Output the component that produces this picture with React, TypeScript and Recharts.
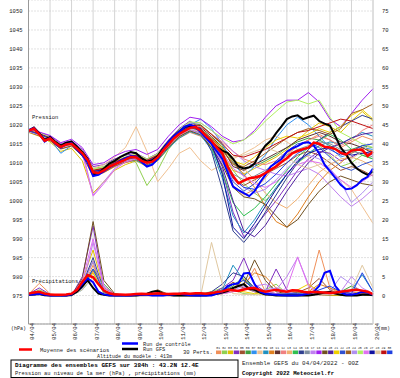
import { LineChart, Line, XAxis, YAxis, CartesianGrid } from "recharts"

const MONO = '"Liberation Mono", "DejaVu Sans Mono", monospace'

// axis ticks
const dayLabels = ["04/04", "05/04", "06/04", "07/04", "08/04", "09/04", "10/04", "11/04", "12/04", "13/04", "14/04", "15/04", "16/04", "17/04", "18/04", "19/04", "20/04"]
const dayTicks = [0, 24, 48, 72, 96, 120, 144, 168, 192, 216, 240, 264, 288, 312, 336, 360, 384]
const hpaTicks = [975, 980, 985, 990, 995, 1000, 1005, 1010, 1015, 1020, 1025, 1030, 1035, 1040, 1045, 1050]
const mmTicks = [0, 5, 10, 15, 20, 25, 30, 35, 40, 45, 50, 55, 60, 65, 70, 75]

// 6-hourly series (0h .. 384h)
const meanPressure = [1018.4, 1019.0, 1017.5, 1015.8, 1016.4, 1015.2, 1014.2, 1014.8, 1015.0, 1013.8,
  1012.5, 1010.7, 1007.5, 1007.3, 1008.0, 1008.9, 1009.6, 1010.2, 1010.8, 1011.5,
  1011.4, 1010.5, 1010.0, 1010.3, 1011.4, 1013.2, 1014.8, 1016.4, 1017.6, 1018.4,
  1019.2, 1019.4, 1018.5, 1017.0, 1015.8, 1014.0, 1012.5, 1009.0, 1006.5, 1004.6,
  1005.3, 1005.9, 1006.1, 1006.5, 1007.3, 1008.2, 1009.0, 1010.2, 1011.2, 1012.5,
  1013.1, 1013.6, 1014.0, 1015.3, 1015.0, 1014.2, 1014.0, 1013.6, 1012.6, 1012.2,
  1013.2, 1013.4, 1013.4, 1011.8, 1012.9]
const controlPressure = [1018.6, 1019.2, 1017.6, 1015.6, 1016.6, 1015.0, 1014.0, 1014.9, 1015.2, 1013.5,
  1012.0, 1010.0, 1006.5, 1006.8, 1007.8, 1008.8, 1009.5, 1010.5, 1011.2, 1011.8,
  1011.6, 1010.2, 1009.0, 1009.5, 1011.0, 1013.5, 1015.5, 1017.0, 1018.2, 1019.5,
  1020.0, 1019.5, 1018.0, 1016.5, 1015.0, 1013.0, 1011.0, 1007.5, 1003.7, 1002.8,
  1002.0, 1001.2, 1002.5, 1004.8, 1006.8, 1009.0, 1010.0, 1011.0, 1012.9, 1013.8,
  1014.4, 1015.2, 1015.4, 1014.5, 1012.5, 1009.5, 1007.8, 1006.0, 1004.2, 1003.0,
  1003.2, 1004.1, 1005.5, 1006.3, 1008.5]
const gfsPressure = [1018.5, 1019.3, 1017.8, 1016.0, 1016.8, 1015.5, 1014.5, 1015.3, 1015.6, 1014.2,
  1012.8, 1011.0, 1007.0, 1007.2, 1008.5, 1009.8, 1010.5, 1011.5, 1012.2, 1012.8,
  1012.5, 1011.2, 1010.3, 1010.6, 1011.8, 1013.8, 1015.5, 1017.0, 1018.3, 1019.4,
  1019.8, 1019.5, 1018.2, 1017.0, 1015.5, 1014.2, 1013.2, 1012.6, 1011.0, 1009.0,
  1008.5, 1008.8, 1009.8, 1012.5, 1014.5, 1015.8, 1017.8, 1019.6, 1021.5, 1022.2,
  1022.5, 1021.5, 1022.0, 1022.4, 1021.0, 1020.3, 1019.8, 1017.0, 1014.0, 1012.2,
  1010.0, 1008.5, 1007.5, 1006.8, 1007.7]
const meanPrecip = [0.5, 0.8, 1.0, 0.5, 0.3, 0.2, 0.2, 0.3, 0.5, 1.5,
  3.6, 5.4, 4.8, 3.0, 1.3, 0.6, 0.3, 0.3, 0.2, 0.3,
  0.4, 0.5, 0.4, 0.5, 0.6, 0.5, 0.4, 0.5, 0.5, 0.6,
  0.5, 0.6, 0.6, 0.5, 0.7, 0.9, 1.1, 1.5, 1.4, 1.2,
  1.6, 1.9, 2.0, 1.4, 1.0, 1.3, 1.5, 1.2, 1.0, 1.4,
  1.3, 1.0, 0.8, 1.0, 0.9, 0.8, 0.7, 0.8, 1.0, 1.2,
  1.4, 1.5, 1.3, 1.0, 0.4]
const controlPrecip = [0.2, 0.3, 0.5, 0.2, 0, 0, 0, 0, 0.3, 1.5,
  3.0, 4.5, 3.5, 1.0, 0.3, 0.1, 0, 0, 0, 0,
  0.2, 0.3, 0.2, 0, 0, 0, 0.2, 0.3, 0.5, 0.3,
  0.1, 0, 0, 0, 0, 0.5, 1.0, 2.5, 3.0, 3.2,
  5.8, 6.0, 3.0, 1.0, 0.5, 0.3, 0.2, 0.1, 0, 0,
  0, 0.2, 0.5, 1.0, 2.5, 6.0, 6.5, 2.5, 0.8, 0.3,
  0.2, 0.5, 1.0, 0.8, 0.2]
const gfsPrecip = [0.2, 0.3, 0.4, 0.1, 0, 0, 0, 0, 0.2, 1.0,
  2.5, 4.0, 2.0, 0.5, 0.2, 0, 0, 0, 0, 0,
  0, 0.2, 0.5, 1.0, 1.2, 0.5, 0.2, 0, 0, 0,
  0, 0, 0, 0, 0.2, 0.5, 0.8, 1.2, 2.0, 2.5,
  3.0, 1.8, 1.5, 0.8, 0.3, 0.2, 0, 0, 0, 0,
  0, 0, 0, 0.2, 0.5, 0.8, 1.0, 0.5, 0.2, 0,
  0, 0, 0.2, 0.3, 0.1]

// 30 perturbed members, 12-hourly
const pertColors = ["#f0905a", "#90d050", "#e0c000", "#8030c0", "#a05030", "#40a040", "#3090f0", "#f0c090", "#2090c0", "#e08020",
  "#603030", "#f08080", "#f0b070", "#30c050", "#304090", "#8090a0", "#c080f0", "#a020f0", "#705020", "#5020a0",
  "#f0d000", "#3050d0", "#a06020", "#b090f0", "#b0f060", "#e070f0", "#1010a0", "#e0c8a0", "#c01010", "#2040e0"]
const pert01 = [1018.2, 1017.3, 1016.0, 1013.8, 1014.5, 1012.0, 1006.5, 1007.5, 1009.0, 1010.5, 1011.0, 1009.5, 1011.0, 1014.0, 1016.5, 1018.0, 1017.0, 1014.0, 1010.5, 1004.0, 1001.5, 1003.0, 1006.0, 1009.5, 1012.0, 1014.5, 1016.0, 1017.5, 1016.0, 1014.0, 1015.5, 1017.0, 1016.0]
const pert02 = [1018.5, 1017.8, 1016.8, 1014.8, 1015.6, 1013.2, 1008.5, 1009.0, 1010.8, 1012.0, 1010.0, 1004.0, 1008.0, 1013.5, 1017.0, 1019.5, 1019.0, 1016.5, 1013.0, 1008.0, 1004.5, 1002.0, 1000.0, 1003.0, 1007.0, 1010.0, 1012.0, 1014.5, 1012.0, 1009.0, 1010.0, 1012.0, 1011.0]
const pert03 = [1018.0, 1017.0, 1015.5, 1013.0, 1013.8, 1010.5, 1002.0, 1005.0, 1008.0, 1009.5, 1010.5, 1009.0, 1010.5, 1013.8, 1016.8, 1018.5, 1018.0, 1015.0, 1012.0, 1008.0, 1007.0, 1008.5, 1010.0, 1011.5, 1013.5, 1016.0, 1018.5, 1020.5, 1019.5, 1018.0, 1021.0, 1023.5, 1021.0]
const pert04 = [1018.6, 1018.0, 1017.0, 1015.0, 1015.8, 1013.5, 1009.0, 1009.5, 1011.0, 1012.0, 1012.5, 1011.0, 1012.5, 1016.0, 1019.0, 1021.0, 1019.0, 1014.5, 1008.0, 997.0, 990.5, 993.0, 996.5, 1000.0, 1004.0, 1008.0, 1011.0, 1013.0, 1012.5, 1010.5, 1011.5, 1013.0, 1012.0]
const pert05 = [1018.3, 1017.4, 1016.2, 1014.0, 1014.8, 1012.0, 1007.0, 1007.8, 1009.5, 1010.5, 1011.0, 1009.8, 1011.2, 1014.5, 1017.0, 1018.5, 1017.5, 1014.5, 1011.0, 1006.0, 1004.0, 1005.5, 1007.0, 1008.5, 1010.0, 1012.0, 1013.0, 1012.0, 1010.0, 1008.0, 1009.0, 1008.0, 1006.5]
const pert06 = [1018.4, 1017.6, 1016.5, 1014.5, 1015.2, 1012.8, 1008.0, 1008.5, 1010.0, 1011.2, 1011.8, 1010.5, 1012.0, 1015.5, 1018.5, 1020.5, 1020.0, 1017.5, 1014.5, 1010.0, 1008.5, 1009.0, 1010.5, 1012.0, 1014.0, 1015.5, 1016.5, 1016.0, 1014.5, 1013.0, 1013.5, 1014.5, 1014.0]
const pert07 = [1018.5, 1017.5, 1016.3, 1012.5, 1014.5, 1012.2, 1007.2, 1008.0, 1009.8, 1011.0, 1011.5, 1010.2, 1011.8, 1015.0, 1018.0, 1020.0, 1021.5, 1019.0, 1015.0, 1010.0, 1006.5, 1009.0, 1012.0, 1016.5, 1020.0, 1022.0, 1020.0, 1017.0, 1014.0, 1011.5, 1012.5, 1014.0, 1013.5]
const pert08 = [1018.2, 1017.2, 1016.0, 1014.0, 1014.6, 1012.3, 1008.5, 1009.5, 1011.5, 1014.0, 1019.5, 1013.0, 1005.0, 1008.5, 1012.5, 1014.0, 1010.5, 1008.0, 1009.5, 1011.0, 1012.5, 1014.0, 1016.0, 1017.0, 1015.5, 1013.5, 1011.5, 1009.0, 1007.0, 1005.5, 1003.0, 998.5, 994.0]
const pert09 = [1018.4, 1017.4, 1016.1, 1013.9, 1014.7, 1012.1, 1006.8, 1007.6, 1009.2, 1010.2, 1010.6, 1009.2, 1010.6, 1013.8, 1016.5, 1018.2, 1017.2, 1013.5, 1006.0, 996.0, 991.5, 995.0, 999.5, 1003.5, 1007.0, 1010.0, 1012.5, 1014.5, 1015.5, 1015.0, 1016.5, 1018.0, 1017.0]
const pert10 = [1018.1, 1017.1, 1015.8, 1013.6, 1014.4, 1011.8, 1006.5, 1007.4, 1009.0, 1010.0, 1010.8, 1009.5, 1011.0, 1014.2, 1017.0, 1018.7, 1018.0, 1015.5, 1013.0, 1010.0, 1007.0, 1003.5, 998.5, 994.5, 993.0, 996.5, 1001.0, 1005.0, 1008.0, 1010.0, 1012.5, 1014.0, 1013.0]
const pert11 = [1018.5, 1017.7, 1016.6, 1014.4, 1015.3, 1012.7, 1007.8, 1008.3, 1009.9, 1011.3, 1012.0, 1010.7, 1012.0, 1015.2, 1018.2, 1019.8, 1019.3, 1017.0, 1014.0, 1009.0, 1008.0, 1009.5, 1011.0, 1012.5, 1014.0, 1016.0, 1017.0, 1018.0, 1017.0, 1015.5, 1015.0, 1014.0, 1012.5]
const pert12 = [1018.3, 1017.5, 1016.4, 1014.3, 1015.0, 1012.6, 1007.6, 1008.2, 1009.7, 1010.9, 1011.5, 1010.2, 1011.6, 1015.0, 1018.0, 1019.8, 1019.5, 1017.5, 1015.5, 1013.0, 1011.0, 1010.0, 1009.5, 1010.5, 1012.5, 1014.5, 1016.0, 1017.0, 1016.0, 1014.5, 1016.0, 1018.5, 1020.0]
const pert13 = [1018.2, 1017.3, 1016.2, 1014.1, 1014.9, 1012.4, 1007.3, 1007.9, 1009.5, 1010.6, 1011.2, 1009.9, 1011.3, 1014.6, 1017.4, 1019.0, 1018.2, 1015.8, 1013.5, 1011.0, 1008.5, 1005.5, 1002.0, 999.5, 998.0, 1000.5, 1004.0, 1007.5, 1009.5, 1011.0, 1011.5, 1010.5, 1009.0]
const pert14 = [1018.4, 1017.5, 1016.3, 1014.1, 1014.9, 1012.3, 1007.1, 1007.8, 1009.3, 1010.4, 1010.9, 1009.6, 1011.0, 1014.3, 1017.2, 1018.8, 1017.8, 1014.0, 1007.5, 999.5, 996.0, 998.0, 1001.0, 1004.5, 1008.0, 1011.5, 1014.0, 1016.0, 1017.5, 1016.0, 1013.5, 1012.0, 1011.0]
const pert15 = [1018.5, 1017.6, 1016.4, 1014.2, 1015.1, 1012.5, 1007.4, 1008.1, 1009.6, 1010.7, 1011.3, 1009.9, 1011.4, 1014.8, 1017.7, 1019.3, 1018.3, 1013.0, 1003.0, 992.0, 989.0, 992.5, 997.0, 1001.5, 1006.0, 1010.0, 1013.5, 1016.0, 1018.0, 1019.5, 1021.0, 1022.5, 1021.5]
const pert16 = [1018.3, 1017.4, 1016.3, 1014.2, 1015.0, 1012.5, 1007.5, 1008.0, 1009.6, 1010.8, 1011.4, 1010.0, 1011.4, 1014.7, 1017.5, 1019.0, 1018.2, 1015.5, 1012.0, 1007.0, 1005.5, 1006.5, 1008.0, 1010.0, 1012.0, 1013.5, 1014.5, 1015.5, 1015.0, 1013.5, 1013.0, 1012.5, 1011.5]
const pert17 = [1018.6, 1017.9, 1016.9, 1014.9, 1015.7, 1013.3, 1001.5, 1005.0, 1008.5, 1010.5, 1011.5, 1010.5, 1012.0, 1015.5, 1018.5, 1020.5, 1020.5, 1018.5, 1016.0, 1013.0, 1010.5, 1009.0, 1008.0, 1007.0, 1006.5, 1007.5, 1008.5, 1007.0, 1004.0, 1001.0, 998.5, 1000.5, 1003.0]
const pert18 = [1018.7, 1018.1, 1017.2, 1015.3, 1016.2, 1014.0, 1009.5, 1010.0, 1011.8, 1013.0, 1013.5, 1012.2, 1013.5, 1017.0, 1020.0, 1022.0, 1021.5, 1019.5, 1017.0, 1015.5, 1016.0, 1018.5, 1022.0, 1025.0, 1026.5, 1026.5, 1028.5, 1026.0, 1021.5, 1019.5, 1023.0, 1026.5, 1029.5]
const pert19 = [1018.2, 1017.2, 1015.9, 1013.7, 1014.5, 1011.9, 1006.9, 1007.6, 1009.2, 1010.3, 1010.9, 1009.5, 1010.9, 1014.1, 1016.9, 1018.4, 1017.4, 1014.0, 1009.5, 1003.5, 1001.0, 1000.5, 999.0, 996.0, 993.0, 995.0, 999.0, 1002.5, 1005.0, 1006.5, 1005.5, 1004.5, 1004.0]
const pert20 = [1018.4, 1017.5, 1016.4, 1014.3, 1015.1, 1012.6, 1007.7, 1008.2, 1009.8, 1011.0, 1011.6, 1010.3, 1011.7, 1015.0, 1017.9, 1019.5, 1018.8, 1015.0, 1009.0, 1000.0, 992.0, 990.5, 993.5, 998.0, 1002.5, 1006.5, 1010.0, 1012.5, 1014.0, 1015.0, 1016.5, 1017.5, 1018.0]
const pert21 = [1018.3, 1017.5, 1016.2, 1014.1, 1014.9, 1012.4, 1007.2, 1007.9, 1009.5, 1010.6, 1011.3, 1009.9, 1011.2, 1014.6, 1017.5, 1019.1, 1018.6, 1016.5, 1014.0, 1010.5, 1009.5, 1011.5, 1014.0, 1016.0, 1017.0, 1016.5, 1017.5, 1019.0, 1018.0, 1019.5, 1022.5, 1024.0, 1021.5]
const pert22 = [1018.5, 1017.6, 1016.5, 1014.4, 1015.2, 1012.7, 1007.7, 1008.3, 1009.9, 1011.1, 1011.7, 1010.4, 1011.8, 1015.1, 1018.1, 1019.7, 1019.0, 1016.0, 1011.5, 1005.0, 1002.5, 1004.5, 1007.5, 1010.5, 1013.0, 1015.0, 1015.5, 1014.0, 1011.5, 1009.0, 1008.0, 1009.5, 1010.5]
const pert23 = [1018.4, 1017.5, 1016.4, 1014.2, 1015.0, 1012.5, 1007.5, 1008.1, 1009.7, 1010.9, 1011.5, 1010.1, 1011.5, 1014.9, 1017.8, 1019.4, 1018.8, 1016.5, 1013.5, 1009.5, 1009.0, 1010.5, 1012.5, 1014.5, 1016.5, 1018.0, 1019.0, 1018.5, 1017.5, 1019.0, 1023.0, 1024.0, 1025.5]
const pert24 = [1018.2, 1017.3, 1016.1, 1013.9, 1014.7, 1012.2, 1007.0, 1007.7, 1009.3, 1010.5, 1011.1, 1009.7, 1011.1, 1014.4, 1017.2, 1018.7, 1017.6, 1014.5, 1010.0, 1005.5, 1003.5, 1002.0, 1003.0, 1005.5, 1008.5, 1011.0, 1012.0, 1011.0, 1008.5, 1005.0, 999.5, 1002.0, 1005.0]
const pert25 = [1018.6, 1017.8, 1016.8, 1014.7, 1015.5, 1013.1, 1008.3, 1008.8, 1010.4, 1011.6, 1012.3, 1011.0, 1012.4, 1015.8, 1018.8, 1020.8, 1020.5, 1018.5, 1016.5, 1015.0, 1016.0, 1018.0, 1021.0, 1023.5, 1026.0, 1026.5, 1025.5, 1026.5, 1022.0, 1018.0, 1016.5, 1015.0, 1014.0]
const pert26 = [1018.3, 1017.4, 1016.3, 1014.1, 1014.9, 1012.4, 1001.2, 1004.5, 1008.2, 1010.2, 1011.0, 1009.7, 1011.1, 1014.5, 1017.3, 1018.9, 1018.0, 1015.5, 1012.5, 1008.5, 1006.5, 1004.5, 1003.5, 1005.0, 1007.5, 1009.5, 1010.5, 1010.0, 1008.0, 1005.5, 1003.5, 1005.0, 1007.0]
const pert27 = [1018.4, 1017.6, 1016.5, 1014.3, 1015.1, 1012.6, 1007.6, 1008.2, 1009.8, 1011.0, 1011.6, 1010.2, 1011.6, 1015.0, 1017.9, 1019.6, 1019.0, 1015.0, 1007.0, 993.0, 990.0, 994.0, 998.5, 1003.0, 1007.0, 1010.5, 1012.5, 1013.5, 1014.0, 1013.0, 1012.0, 1012.5, 1013.0]
const pert28 = [1018.3, 1017.4, 1016.2, 1014.0, 1014.8, 1012.3, 1007.3, 1008.0, 1009.6, 1010.7, 1011.3, 1009.9, 1011.3, 1014.6, 1017.4, 1019.0, 1018.2, 1016.0, 1013.5, 1011.5, 1012.0, 1013.0, 1014.0, 1013.0, 1011.5, 1009.5, 1008.5, 1009.5, 1011.0, 1012.5, 1011.0, 1013.0, 1015.5]
const pert29 = [1018.5, 1017.6, 1016.5, 1014.4, 1015.2, 1012.8, 1008.0, 1008.6, 1010.2, 1011.4, 1012.0, 1010.6, 1012.0, 1015.3, 1018.3, 1020.0, 1019.8, 1017.5, 1015.0, 1012.0, 1011.5, 1012.5, 1013.5, 1015.0, 1016.5, 1018.0, 1018.5, 1019.5, 1020.5, 1021.5, 1021.0, 1020.0, 1019.0]
const pert30 = [1018.4, 1017.5, 1016.3, 1014.2, 1015.0, 1012.5, 1007.4, 1008.0, 1009.6, 1010.8, 1011.4, 1010.0, 1011.4, 1014.8, 1017.7, 1019.3, 1018.5, 1016.0, 1012.0, 1006.0, 1003.5, 1003.0, 1004.5, 1007.0, 1010.0, 1012.5, 1014.0, 1015.0, 1013.5, 1012.0, 1013.0, 1014.5, 1015.0]
const pertPressure = [pert01, pert02, pert03, pert04, pert05, pert06, pert07, pert08, pert09, pert10,
  pert11, pert12, pert13, pert14, pert15, pert16, pert17, pert18, pert19, pert20,
  pert21, pert22, pert23, pert24, pert25, pert26, pert27, pert28, pert29, pert30]

// member precipitation (mm), 12-hourly: [member index, values]
const rain01 = [0.3, 3.2, 0.5, 0, 0.2, 2.0, 8.0, 1.0, 0.2, 0, 0, 0.5, 0.3, 0, 0.2, 0, 0, 0.5, 1.5, 3.0, 2.0, 7.2, 1.0, 0.5, 0.3, 0.5, 1.0, 12.0, 2.0, 0.5, 0.3, 1.0, 0.5]
const rain02 = [0.2, 1.5, 0.3, 0, 0, 3.5, 6.0, 0.5, 0, 0, 0.3, 0.2, 0, 0, 0, 0, 0.5, 1.0, 2.0, 1.5, 0.5, 0.3, 1.5, 3.0, 0.5, 0.2, 1.0, 0.5, 0.2, 0, 0.5, 0.3, 0]
const rain03 = [0.2, 0.8, 0.2, 0, 0, 4.0, 12.0, 1.5, 0, 0, 0, 0.3, 0.5, 0, 0, 0, 0, 0.2, 0.5, 1.0, 4.5, 1.0, 0.5, 0.2, 0, 0.3, 0.5, 0.2, 0, 0, 0, 0.5, 0.2]
const rain04 = [0.4, 2.0, 0.3, 0, 0, 5.0, 18.3, 2.0, 0.3, 0, 0, 0, 0, 0, 0, 0, 0, 0.5, 2.0, 4.0, 9.9, 3.0, 1.0, 7.0, 1.5, 0.5, 0.3, 0.2, 0.2, 0.5, 1.0, 0.5, 0.2]
const rain05 = [0.2, 1.0, 0.2, 0, 0, 3.0, 9.0, 0.8, 0, 0, 0, 0, 0.2, 0, 0, 0.3, 0.5, 0.5, 1.5, 3.5, 2.0, 1.0, 0.5, 0.3, 0.2, 0.8, 2.0, 4.5, 1.5, 0.3, 0.2, 0.5, 0.3]
const rain06 = [0.3, 0.5, 0, 0, 0, 2.5, 7.0, 3.0, 0.2, 0, 0, 0, 0.3, 0.5, 0, 0, 0, 0.3, 1.0, 2.5, 5.0, 1.5, 0.5, 0.2, 0.2, 0.5, 0.5, 0.3, 0.2, 1.0, 2.5, 1.0, 0.3]
const rain09 = [0.2, 0.5, 0, 0, 0, 1.5, 5.0, 1.0, 0, 0, 0, 0, 0, 0, 0, 0, 0, 0.5, 1.5, 8.0, 4.0, 2.0, 0.5, 0.3, 0.2, 0.2, 0.5, 0.5, 0.3, 0.5, 1.5, 5.5, 1.0]
const rain10 = [0.2, 1.0, 0.2, 0, 0, 2.0, 6.5, 2.0, 0.5, 0, 0, 0, 0, 0, 0, 0, 0, 0.5, 1.0, 2.0, 3.0, 6.0, 5.0, 2.0, 1.0, 0.5, 1.0, 3.0, 2.0, 1.0, 0.5, 0.3, 0.2]
const rain15 = [0.3, 0.6, 0.2, 0, 0, 3.0, 10.0, 1.0, 0, 0, 0, 0, 0, 0, 0, 0, 0.2, 1.0, 3.0, 6.0, 5.0, 2.0, 1.0, 0.5, 0.3, 0.2, 0.5, 0.5, 0.3, 0.2, 0.5, 0.3, 0.2]
const rain17 = [0.2, 0.3, 0, 0, 0, 2.0, 14.0, 2.0, 0.2, 0, 0, 0, 0, 0, 0, 0, 0, 0.2, 0.5, 1.0, 2.0, 2.5, 3.0, 1.5, 5.0, 10.0, 3.0, 1.0, 0.5, 1.0, 5.0, 2.0, 0.5]
const rain19 = [0.2, 0.5, 0, 0, 0, 4.5, 19.5, 4.0, 0.5, 0, 0, 0.5, 1.5, 0.3, 0, 0, 0, 0.3, 1.0, 2.0, 3.0, 9.4, 4.0, 1.0, 0.5, 1.0, 0.5, 0.3, 0.2, 0.3, 0.5, 0.2, 0.1]
const rain21 = [0.1, 0.3, 0, 0, 0, 2.0, 6.0, 1.0, 0, 0, 0, 0, 0, 0, 0, 0, 0, 0.2, 0.5, 1.5, 1.0, 0.5, 0.3, 0.2, 0.5, 1.5, 3.0, 1.0, 0.5, 0.3, 0.5, 1.0, 0.3]
const rain24 = [0.2, 0.5, 0, 0, 0, 2.5, 9.0, 1.0, 0, 0, 0, 0, 0, 0, 0, 0, 0, 0.3, 0.5, 1.5, 2.5, 1.0, 1.5, 2.0, 1.0, 0.5, 0.3, 0.5, 1.0, 5.0, 3.0, 1.0, 0.3]
const rain26 = [0.3, 1.0, 0.2, 0, 0, 4.0, 15.0, 2.5, 0.3, 0, 0, 0, 0, 0, 0, 0, 0, 0.2, 0.5, 1.0, 1.5, 2.0, 1.0, 0.5, 2.0, 10.2, 2.5, 0.5, 0.3, 0.3, 0.5, 0.3, 0.2]
const rain28 = [0.2, 0.3, 0, 0, 0, 1.5, 5.0, 1.0, 0, 0, 0, 0, 0, 0, 0, 0, 0, 14.0, 3.0, 0.5, 0.3, 0.2, 0.2, 0.3, 0.5, 0.5, 0.3, 0.2, 0.2, 0.5, 1.5, 8.0, 2.0]
const rain30 = [0.2, 0.5, 0, 0, 0, 2.0, 7.0, 1.0, 0, 0, 0, 0, 0, 0, 0, 0, 0, 0.5, 1.0, 3.0, 4.0, 1.5, 0.5, 0.3, 0.5, 0.5, 0.3, 1.5, 2.5, 1.0, 0.5, 6.0, 1.0]
const pertPrecip: [number, number[]][] = [[0, rain01], [1, rain02], [2, rain03], [3, rain04], [4, rain05], [5, rain06], [8, rain09], [9, rain10],
  [14, rain15], [16, rain17], [18, rain19], [20, rain21], [23, rain24], [25, rain26], [27, rain28], [29, rain30]]

// one table, 6-hourly rows; members only on even rows (12h)
const rows = meanPressure.map((_, i) => {
  const row: Record<string, number | null> = {
    h: i * 6,
    meanP: meanPressure[i], ctrlP: controlPressure[i], gfsP: gfsPressure[i],
    meanR: meanPrecip[i], ctrlR: controlPrecip[i], gfsR: gfsPrecip[i],
  }
  pertPressure.forEach((arr, k) => { row[`p${k}`] = i % 2 === 0 ? arr[i / 2] ?? null : null })
  pertPrecip.forEach(([k, arr]) => { row[`r${k}`] = i % 2 === 0 ? arr[i / 2] ?? null : null })
  return row
})

const DateTick = ({ x, payload }: any) => (
  <text transform={`translate(${x + 5.5},340) rotate(-90)`} fontSize={5.7} fontFamily={MONO} fill="#222">
    {dayLabels[Math.round(payload.value / 24)]}
  </text>
)
const LeftTick = ({ y, payload }: any) => (
  <text x={22.5} y={y} dy={2} textAnchor="end" fontSize={5.5} fontFamily={MONO} fill="#222">{payload.value}</text>
)
const RightTick = ({ y, payload }: any) => (
  <text x={382} y={y} dy={2} textAnchor="start" fontSize={5.5} fontFamily={MONO} fill="#222">{payload.value}</text>
)

const swatchX0 = 216
const swatchW = 5.9

export default function App() {
  return (
    <div style={{ position: "absolute", left: 0, top: 0, width: 400, height: 378, background: "#fff", fontFamily: MONO }}>
      <LineChart width={400} height={378} data={rows} margin={{ top: 0, right: 0, bottom: 0, left: 0 }}>
        <CartesianGrid yAxisId="hpa" horizontal={false} stroke="#d4d4d4" />
        <CartesianGrid yAxisId="hpa" vertical={false} stroke="#c4c4c4" strokeDasharray="1 2" />
        <XAxis dataKey="h" type="number" domain={[0, 384]} ticks={dayTicks} height={54}
          tick={<DateTick />} tickLine={false} axisLine={{ stroke: "#999" }} interval={0} />
        <YAxis yAxisId="hpa" orientation="left" width={28.5} domain={[967.5, 1052.9]} allowDataOverflow
          ticks={hpaTicks} tick={<LeftTick />} tickLine={false} axisLine={{ stroke: "#999" }} interval={0} />
        <YAxis yAxisId="mm" orientation="right" width={27} domain={[-7.5, 77.9]} allowDataOverflow
          ticks={mmTicks} tick={<RightTick />} tickLine={false} axisLine={{ stroke: "#d4d4d4" }} interval={0} />
        {pertPressure.map((_, k) => (
          <Line key={`p${k}`} yAxisId="hpa" dataKey={`p${k}`} stroke={pertColors[k]} strokeWidth={1}
            dot={false} connectNulls isAnimationActive={false} />
        ))}
        {pertPrecip.map(([k]) => (
          <Line key={`r${k}`} yAxisId="mm" dataKey={`r${k}`} stroke={pertColors[k]} strokeWidth={1}
            dot={false} connectNulls isAnimationActive={false} />
        ))}
        <Line yAxisId="mm" dataKey="gfsR" stroke="#000" strokeWidth={2} dot={false} isAnimationActive={false} />
        <Line yAxisId="mm" dataKey="ctrlR" stroke="#0000ff" strokeWidth={2} dot={false} isAnimationActive={false} />
        <Line yAxisId="mm" dataKey="meanR" stroke="#ff0000" strokeWidth={2.5} dot={false} isAnimationActive={false} />
        <Line yAxisId="hpa" dataKey="gfsP" stroke="#000" strokeWidth={2} dot={false} isAnimationActive={false} />
        <Line yAxisId="hpa" dataKey="ctrlP" stroke="#0000ff" strokeWidth={2} dot={false} isAnimationActive={false} />
        <Line yAxisId="hpa" dataKey="meanP" stroke="#ff0000" strokeWidth={2.5} dot={false} isAnimationActive={false} />
      </LineChart>
      <svg width={400} height={378} style={{ position: "absolute", left: 0, top: 0, pointerEvents: "none" }}
        fontFamily={MONO} fill="#222">
        <text x={32} y={118.5} fontSize={5.5}>Pression</text>
        <text x={32} y={283} fontSize={5.5}>Précipitations</text>
        <text x={11} y={330} fontSize={5}>(hPa)</text>
        <text x={378} y={330} fontSize={5}>(mm)</text>
        <line x1={19} x2={32} y1={349.5} y2={349.5} stroke="#ff0000" strokeWidth={2.5} />
        <text x={40} y={351.5} fontSize={5.5}>Moyenne des scénarios</text>
        <line x1={122} x2={138} y1={343.5} y2={343.5} stroke="#0000ff" strokeWidth={2.5} />
        <text x={143} y={346} fontSize={5.3}>Run de contrôle</text>
        <line x1={122} x2={138} y1={349} y2={349} stroke="#000" strokeWidth={2.5} />
        <text x={143} y={351} fontSize={5.3}>Run GFS</text>
        <text x={97} y={357.5} fontSize={5}>Altitude du modèle : 413m</text>
        <text x={183} y={354} fontSize={5.5}>30 Perts.</text>
        {pertColors.map((c, k) => (
          <g key={k}>
            <text x={swatchX0 + k * swatchW + 0.3} y={349} fontSize={3.2}>{String(k + 1).padStart(2, "0")}</text>
            <rect x={swatchX0 + k * swatchW} y={350.5} width={swatchW - 0.6} height={3.6} fill={c} />
          </g>
        ))}
        <rect x={11} y={360} width={227} height={17.5} fill="none" stroke="#000" strokeWidth={1} />
        <text x={15} y={367} fontSize={6} fontWeight="bold" fill="#000">Diagramme des ensembles GEFS sur 384h : 43.2N 12.4E</text>
        <text x={15} y={374.5} fontSize={5.4}>Pression au niveau de la mer (hPa) , précipitations (mm)</text>
        <text x={242} y={364.5} fontSize={5.9}>Ensemble GEFS du 04/04/2022 - 00Z</text>
        <text x={242} y={375} fontSize={5.7} fontWeight="bold" fill="#000">Copyright 2022 Meteociel.fr</text>
      </svg>
    </div>
  )
}
